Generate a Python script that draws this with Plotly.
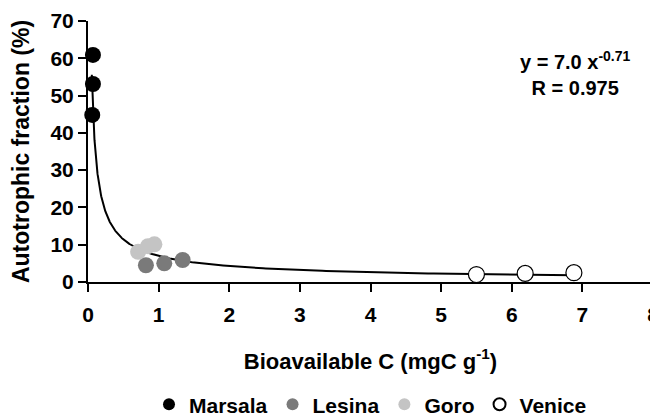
import numpy as np
import plotly.graph_objects as go

marsala_x = [0.07, 0.07, 0.06]
marsala_y = [60.9, 53.1, 44.8]
lesina_x = [0.82, 1.08, 1.34]
lesina_y = [4.5, 5.0, 5.9]
goro_x = [0.71, 0.85, 0.94]
goro_y = [8.1, 9.6, 10.1]
venice_x = [5.50, 6.19, 6.88]
venice_y = [2.0, 2.3, 2.5]

fit_a = 7.0
fit_b = -0.71
fit_xmin, fit_xmax = 0.054, 6.88

x_ticks = [0, 1, 2, 3, 4, 5, 6, 7, 8]
y_ticks = [0, 10, 20, 30, 40, 50, 60, 70]

FONT = "Liberation Sans"

fx = np.geomspace(fit_xmin, fit_xmax, 300)
fy = fit_a * fx ** fit_b

fig = go.Figure()
fig.add_trace(go.Scatter(x=fx, y=fy, mode="lines", line=dict(color="black", width=2),
                         showlegend=False, hoverinfo="skip", cliponaxis=False))

def pts(x, y, name, fill, line="rgba(0,0,0,0)", rank=1):
    fig.add_trace(go.Scatter(x=x, y=y, mode="markers", name=name, cliponaxis=False,
                             legendrank=rank,
                             marker=dict(size=16, color=fill, line=dict(color=line, width=1.2))))

pts(lesina_x, lesina_y, "Lesina", "#7a7a7a", rank=2)
pts(goro_x, goro_y, "Goro", "#c4c4c4", rank=3)
pts(venice_x, venice_y, "Venice", "white", "black", rank=4)
pts(marsala_x, marsala_y, "Marsala", "black", rank=1)

# page body has an 8px default margin, so the figure is 650x409
fig.update_layout(
    width=650, height=409,
    paper_bgcolor="white", plot_bgcolor="white",
    margin=dict(l=80, r=5, t=13, b=135, autoexpand=False),
    font=dict(family=FONT, size=21, color="black"),
    showlegend=True,
    legend=dict(orientation="h", x=0.5, xanchor="center",
                y=-0.47, yanchor="middle",
                font=dict(family=FONT, size=21, color="black", weight="bold"),
                itemwidth=30, itemsizing="constant", tracegroupgap=0),
    xaxis=dict(range=[0, 8], tickvals=x_ticks, showgrid=False, zeroline=False,
               showline=True, linecolor="black", linewidth=2,
               ticks="outside", ticklen=8, tickwidth=2, tickcolor="black",
               ticklabeloverflow="allow", ticklabelstandoff=5,
               tickfont=dict(family=FONT, size=21, weight="bold"),
               title=dict(text="Bioavailable C (mgC g<sup>-1</sup>)",
                          font=dict(family=FONT, size=22, weight="bold"), standoff=28)),
    yaxis=dict(range=[0, 70], tickvals=y_ticks, showgrid=False, zeroline=False,
               showline=True, linecolor="black", linewidth=2,
               ticks="outside", ticklen=8, tickwidth=2, tickcolor="black",
               tickfont=dict(family=FONT, size=21, weight="bold"),
               title=dict(text="Autotrophic fraction (%)",
                          font=dict(family=FONT, size=23, weight="bold"), standoff=15)),
    annotations=[dict(x=0.965, y=0.80, xref="paper", yref="paper", xanchor="right", yanchor="middle",
                      showarrow=False, align="center",
                      text="y = 7.0 x<sup>-0.71</sup><br>R = 0.975",
                      font=dict(family=FONT, size=20, weight="bold"))],
)

fig.write_html("out.html")
